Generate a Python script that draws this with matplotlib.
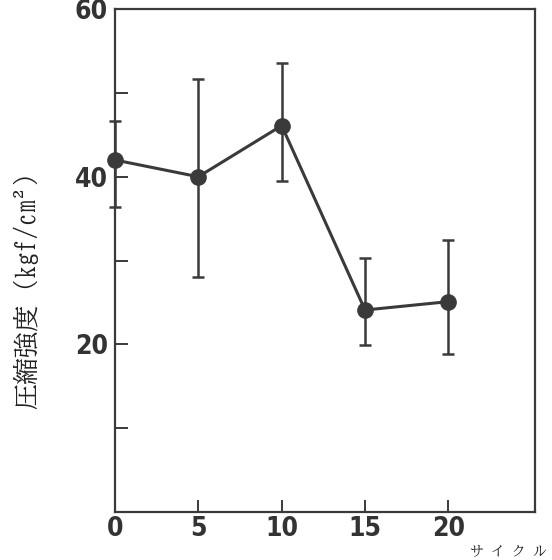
import matplotlib
matplotlib.use("Agg")
import matplotlib.pyplot as plt
import numpy as np

# === Data ===
cycles = [0, 5, 10, 15, 20]
strength = [42.0, 40.0, 46.1, 24.1, 25.1]
err_upper = [46.6, 51.7, 53.6, 30.3, 32.5]
err_lower = [36.4, 28.0, 39.5, 19.9, 18.9]

x_ticks = [0, 5, 10, 15, 20]
y_major = [20, 40, 60]
y_minor = [10, 30, 50]

ylabel = "圧縮強度（kgf/cm²）"
xlabel = "サ イ ク ル"

ink = "#3a3a3a"
jp_font = ["BIZ UDMincho", "Noto Sans CJK JP", "DejaVu Sans"]
num_font = dict(family="DejaVu Sans", stretch="condensed", weight="bold", size=19)

fig = plt.figure(figsize=(5.52, 5.60), dpi=100)
ax = fig.add_axes([0.2083, 0.0857, 0.761, 0.898])

yerr = [np.array(strength) - np.array(err_lower), np.array(err_upper) - np.array(strength)]
ax.errorbar(cycles, strength, yerr=yerr, fmt="o-", color=ink, ecolor=ink,
            lw=2.2, elinewidth=1.8, capsize=4, capthick=1.8, ms=11,
            mfc=ink, mec=ink, clip_on=False, zorder=3)

ax.set_xlim(0, 25.2)
ax.set_ylim(0, 60)

ax.set_xticks(x_ticks)
ax.set_xticklabels([str(v) for v in x_ticks], fontdict=num_font, color="#333333")
ax.set_yticks(y_major)
ax.set_yticklabels([str(v) for v in y_major], fontdict=num_font, color="#333333")
ax.set_yticks(y_minor, minor=True)

ax.tick_params(axis="both", which="both", direction="in", length=9, width=1.4, color=ink)
ax.tick_params(axis="x", pad=3)
ax.tick_params(axis="y", pad=5)

for sp in ax.spines.values():
    sp.set_linewidth(1.6)
    sp.set_color(ink)

ax.set_ylabel(ylabel, family=jp_font, fontsize=19, color="#222222")
ax.yaxis.set_label_coords(-0.182, 0.455)
fig.text(0.99, 0.004, xlabel, family=jp_font, fontsize=10, color="#222222",
         ha="right", va="bottom")

fig.savefig("out.png", dpi=100)
